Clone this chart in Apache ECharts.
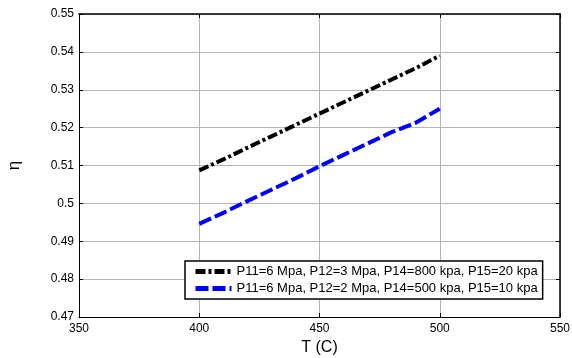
<!DOCTYPE html>
<html>
<head>
<meta charset="utf-8">
<script src="https://cdn.jsdelivr.net/npm/echarts@6/dist/echarts.min.js"></script>
<style>
  html, body { margin: 0; padding: 0; background: #fff; }
  #chart { width: 572px; height: 358px; }
</style>
</head>
<body>
<div id="chart"></div>
<script>
// temperatures (C)
const temps = [400, 410, 420, 430, 440, 450, 460, 470, 480, 490, 500]
// efficiency
const etaHigh = [0.5087, 0.5116, 0.5147, 0.5177, 0.5207, 0.5237, 0.5267, 0.5297, 0.5327, 0.5357, 0.5390]
const etaLow = [0.4946, 0.4975, 0.5006, 0.5036, 0.5066, 0.5098, 0.5128, 0.5158, 0.5188, 0.5213, 0.5250]
const seriesNames = [
    'P11=6 Mpa, P12=3 Mpa, P14=800 kpa, P15=20 kpa',
    'P11=6 Mpa, P12=2 Mpa, P14=500 kpa, P15=10 kpa'
]

const font = 'Liberation Sans, Arial, sans-serif'
const gridColor = '#b4b4b4'

const chart = echarts.init(document.getElementById('chart'))

function pairs(ys) {
    return temps.map((t, i) => [t, ys[i]])
}

const options = {
    animation: false,
    grid: { left: 79, right: 12, top: 14, bottom: 41, outerBoundsMode: 'none' },
    legend: {
        left: 185,
        top: 261,
        orient: 'vertical',
        backgroundColor: '#fff',
        borderColor: '#000',
        borderWidth: 1.5,
        borderRadius: 0,
        padding: [4, 5, 4, 8],
        itemGap: 4,
        itemWidth: 36,
        itemHeight: 6,
        // hide the little symbol dot, keep the dashed line
        itemStyle: { opacity: 0 },
        lineStyle: { width: 5 },
        textStyle: { fontFamily: font, fontSize: 13, color: '#000' },
        data: seriesNames
    },
    xAxis: [
        {
            type: 'value',
            min: 350,
            max: 550,
            interval: 50,
            name: 'T (C)',
            nameLocation: 'middle',
            nameGap: 23,
            nameTextStyle: { fontFamily: font, fontSize: 16, color: '#000' },
            axisLine: { show: true, lineStyle: { color: '#000', width: 1 } },
            axisTick: { inside: true, length: 4, lineStyle: { color: '#000' } },
            axisLabel: { fontFamily: font, fontSize: 12, color: '#000', margin: 6 },
            splitLine: { show: true, lineStyle: { color: gridColor, width: 1 } }
        },
        {
            type: 'value',
            position: 'top',
            min: 350,
            max: 550,
            interval: 50,
            axisLine: { show: true, lineStyle: { color: '#000', width: 1.5 } },
            axisTick: { inside: true, length: 4, lineStyle: { color: '#000' } },
            axisLabel: { show: false },
            splitLine: { show: false }
        }
    ],
    yAxis: [
        {
            type: 'value',
            min: 0.47,
            max: 0.55,
            interval: 0.01,
            name: 'η',
            nameLocation: 'middle',
            nameRotate: 90,
            nameGap: 56,
            nameTextStyle: { fontFamily: font, fontSize: 17, color: '#000' },
            axisLine: { show: true, lineStyle: { color: '#000', width: 1 } },
            axisTick: { inside: true, length: 4, lineStyle: { color: '#000' } },
            axisLabel: { fontFamily: font, fontSize: 12, color: '#000', margin: 5 },
            splitLine: { show: true, lineStyle: { color: gridColor, width: 1 } }
        },
        {
            type: 'value',
            position: 'right',
            min: 0.47,
            max: 0.55,
            interval: 0.01,
            axisLine: { show: true, lineStyle: { color: '#000', width: 1.5 } },
            axisTick: { inside: true, length: 4, lineStyle: { color: '#000' } },
            axisLabel: { show: false },
            splitLine: { show: false }
        }
    ],
    series: [
        {
            name: seriesNames[0],
            type: 'line',
            showSymbol: false,
            symbol: 'none',
            data: pairs(etaHigh),
            itemStyle: { color: '#000' },
            lineStyle: { color: '#000', width: 4, type: [10, 3, 3, 3] }
        },
        {
            name: seriesNames[1],
            type: 'line',
            showSymbol: false,
            symbol: 'none',
            data: pairs(etaLow),
            itemStyle: { color: '#0000ff' },
            lineStyle: { color: '#0000ff', width: 4, type: [13, 4] }
        }
    ]
}

chart.setOption(options)
</script>
</body>
</html>
